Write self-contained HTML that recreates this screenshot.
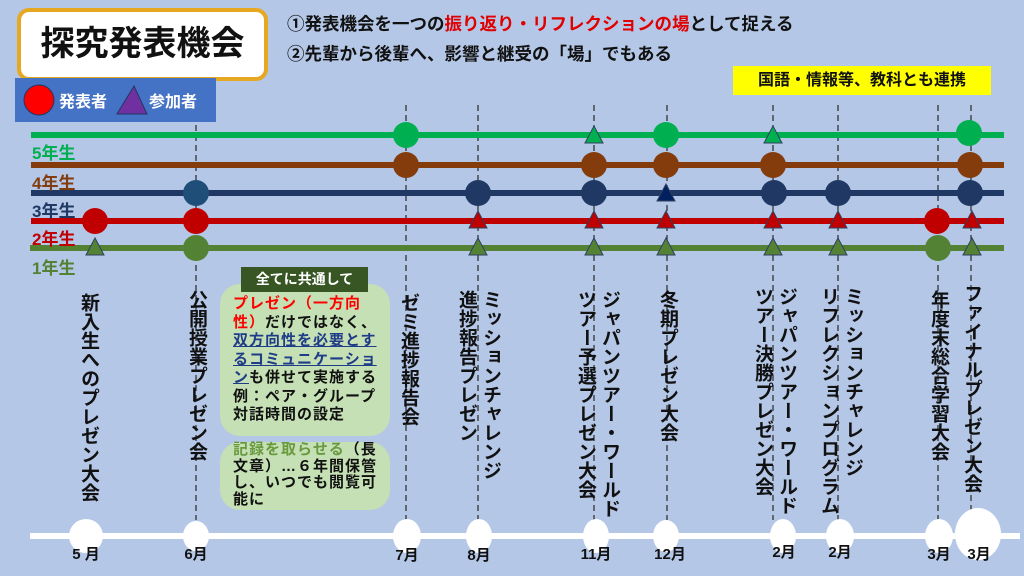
<!DOCTYPE html>
<html><head><meta charset="utf-8"><style>
*{margin:0;padding:0}
body{width:1024px;height:576px;overflow:hidden;background:#b4c7e7;position:relative;font-family:"Liberation Sans","Noto Sans CJK JP",sans-serif;}
.v{position:absolute;writing-mode:vertical-rl;font-size:19px;font-weight:bold;color:#111;line-height:24px;white-space:nowrap;letter-spacing:0px}
.abs{position:absolute}
.box{position:absolute;background:#c5e0b4;border-radius:20px;font-size:15px;letter-spacing:1px;font-weight:bold;color:#111;line-height:18.5px;padding:8px 0 0 13px;box-sizing:border-box;white-space:nowrap}
</style></head><body>
<svg class="abs" style="left:0;top:0" width="1024" height="576">
<g stroke="#333" stroke-width="1.3" stroke-dasharray="6,4">
<line x1="196" y1="105" x2="196" y2="520"/>
<line x1="406" y1="105" x2="406" y2="520"/>
<line x1="478" y1="105" x2="478" y2="520"/>
<line x1="594" y1="105" x2="594" y2="520"/>
<line x1="667" y1="105" x2="667" y2="520"/>
<line x1="773" y1="105" x2="773" y2="520"/>
<line x1="838" y1="105" x2="838" y2="520"/>
<line x1="938" y1="105" x2="938" y2="520"/>
<line x1="971" y1="105" x2="971" y2="520"/>
</g>
<g stroke-width="6">
<line x1="31" y1="135" x2="1004" y2="135" stroke="#00b050"/>
<line x1="31" y1="165" x2="1004" y2="165" stroke="#843c0c"/>
<line x1="31" y1="193" x2="1004" y2="193" stroke="#203864"/>
<line x1="31" y1="221" x2="1004" y2="221" stroke="#c00000"/>
<line x1="30" y1="248" x2="1004" y2="248" stroke="#548235"/>
</g>
<g>
<circle cx="95" cy="221" r="13" fill="#c00000"/>
<circle cx="196" cy="193" r="13" fill="#1f4e79"/>
<circle cx="196" cy="221" r="13" fill="#c00000"/>
<circle cx="196" cy="248" r="13" fill="#548235"/>
<circle cx="406" cy="135" r="13" fill="#00b050"/>
<circle cx="406" cy="165" r="13" fill="#843c0c"/>
<circle cx="478" cy="193" r="13" fill="#203864"/>
<circle cx="594" cy="165" r="13" fill="#843c0c"/>
<circle cx="594" cy="193" r="13" fill="#203864"/>
<circle cx="666" cy="135" r="13" fill="#00b050"/>
<circle cx="666" cy="165" r="13" fill="#843c0c"/>
<circle cx="773" cy="165" r="13" fill="#843c0c"/>
<circle cx="774" cy="193" r="13" fill="#203864"/>
<circle cx="838" cy="193" r="13" fill="#203864"/>
<circle cx="937" cy="221" r="13" fill="#c00000"/>
<circle cx="938" cy="248" r="13" fill="#548235"/>
<circle cx="969" cy="133" r="13" fill="#00b050"/>
<circle cx="970" cy="165" r="13" fill="#843c0c"/>
<circle cx="970" cy="193" r="13" fill="#203864"/>
</g>
<g stroke="#2f4060" stroke-width="1">
<polygon points="95,238 104,255 86,255" fill="#548235"/>
<polygon points="478,211 487,228 469,228" fill="#c00000"/>
<polygon points="478,238 487,255 469,255" fill="#548235"/>
<polygon points="594,126 603,143 585,143" fill="#00b050"/>
<polygon points="594,211 603,228 585,228" fill="#c00000"/>
<polygon points="594,238 603,255 585,255" fill="#548235"/>
<polygon points="666,184 675,201 657,201" fill="#002060"/>
<polygon points="666,211 675,228 657,228" fill="#c00000"/>
<polygon points="666,238 675,255 657,255" fill="#548235"/>
<polygon points="773,126 782,143 764,143" fill="#00b050"/>
<polygon points="773,211 782,228 764,228" fill="#c00000"/>
<polygon points="773,238 782,255 764,255" fill="#548235"/>
<polygon points="838,211 847,228 829,228" fill="#c00000"/>
<polygon points="838,238 847,255 829,255" fill="#548235"/>
<polygon points="972,211 981,228 963,228" fill="#c00000"/>
<polygon points="972,238 981,255 963,255" fill="#548235"/>
</g>
<rect x="30" y="533" width="990" height="6" fill="#fff"/>
<g fill="#fff">
<ellipse cx="86" cy="536" rx="17" ry="17"/>
<ellipse cx="196" cy="536" rx="13" ry="15"/>
<ellipse cx="407" cy="536" rx="14" ry="17"/>
<ellipse cx="479" cy="536" rx="13" ry="17"/>
<ellipse cx="596" cy="536" rx="13" ry="17"/>
<ellipse cx="666" cy="536" rx="13" ry="16"/>
<ellipse cx="783" cy="536" rx="13" ry="17"/>
<ellipse cx="840" cy="536" rx="14" ry="17"/>
<ellipse cx="939" cy="536" rx="14" ry="17"/>
<ellipse cx="978" cy="534" rx="23" ry="26"/>
</g>
<g font-size="15" font-weight="bold" fill="#111" text-anchor="middle" font-family="Liberation Sans,Noto Sans CJK JP,sans-serif">
<text x="86" y="559">5 月</text><text x="196" y="559">6月</text><text x="407" y="560">7月</text><text x="479" y="560">8月</text><text x="596" y="559">11月</text><text x="670" y="559">12月</text><text x="784" y="557">2月</text><text x="840" y="557">2月</text><text x="939" y="559">3月</text><text x="979" y="559">3月</text>
</g>
</svg>
<div class="abs" style="left:17px;top:8px;width:251px;height:73px;box-sizing:border-box;border:4px solid #e6a820;border-radius:12px;background:#fff;font-size:34px;font-weight:bold;text-align:center;line-height:64px;color:#111">探究発表機会</div>
<div class="abs" style="left:15px;top:78px;width:201px;height:44px;background:#4472c4"></div>
<svg class="abs" style="left:15px;top:78px" width="201" height="44"><circle cx="24" cy="22" r="15" fill="#ff0000" stroke="#203864"/><polygon points="119,8 132,36 102,36" fill="#7030a0" stroke="#203864"/></svg>
<div class="abs" style="left:59px;top:88px;font-size:16px;font-weight:bold;color:#fff">発表者</div>
<div class="abs" style="left:149px;top:88px;font-size:16px;font-weight:bold;color:#fff">参加者</div>
<div class="abs" style="left:287px;top:11px;font-size:17.5px;font-weight:bold;color:#111">①発表機会を一つの<span style="color:#e00000">振り返り・リフレクションの場</span>として捉える</div>
<div class="abs" style="left:287px;top:41px;font-size:17.5px;font-weight:bold;color:#111">②先輩から後輩へ、影響と継受の「場」でもある</div>
<div class="abs" style="left:733px;top:66px;width:258px;height:29px;background:#ffff00;font-size:16px;font-weight:bold;text-align:center;line-height:29px;color:#111">国語・情報等、教科とも連携</div>
<div class="abs" style="left:32px;top:139px;font-size:17px;font-weight:bold;color:#00b050">5年生</div>
<div class="abs" style="left:32px;top:169px;font-size:17px;font-weight:bold;color:#843c0c">4年生</div>
<div class="abs" style="left:32px;top:197px;font-size:17px;font-weight:bold;color:#203864">3年生</div>
<div class="abs" style="left:32px;top:225px;font-size:17px;font-weight:bold;color:#c00000">2年生</div>
<div class="abs" style="left:32px;top:254px;font-size:17px;font-weight:bold;color:#548235">1年生</div>
<div class="box" style="left:220px;top:284px;width:170px;height:152px;padding-top:11px">
<span style="color:#ff0000">プレゼン（一方向<br>性）</span>だけではなく、<br><span style="color:#1f3c88;text-decoration:underline">双方向性を必要とす<br>るコミュニケーショ<br>ン</span>も併せて実施する<br>例：ペア・グループ<br>対話時間の設定</div>
<div class="abs" style="left:241px;top:267px;width:127px;height:25px;background:#375623;color:#fff;font-size:14px;font-weight:bold;text-align:center;line-height:25px">全てに共通して</div>
<div class="box" style="left:220px;top:442px;width:170px;height:68px;padding-top:0;line-height:16.7px"><span style="color:#6a9a40">記録を取らせる</span>（長<br>文章）…６年間保管<br>し、いつでも閲覧可<br>能に</div>
<div class="v" style="left:76px;top:293px">新入生へのプレゼン大会</div>
<div class="v" style="left:184px;top:290px">公開授業プレゼン会</div>
<div class="v" style="left:396px;top:293px">ゼミ進捗報告会</div>
<div class="v" style="left:454px;top:290px">ミッションチャレンジ<br>進捗報告プレゼン</div>
<div class="v" style="left:573px;top:290px">ジャパンツアー・ワールド<br>ツアー予選プレゼン大会</div>
<div class="v" style="left:655px;top:290px">冬期プレゼン大会</div>
<div class="v" style="left:750px;top:287px">ジャパンツアー・ワールド<br>ツアー決勝プレゼン大会</div>
<div class="v" style="left:816px;top:287px">ミッションチャレンジ<br>リフレクションプログラム</div>
<div class="v" style="left:926px;top:290px">年度末総合学習大会</div>
<div class="v" style="left:959px;top:284px">ファイナルプレゼン大会</div>
</body></html>
